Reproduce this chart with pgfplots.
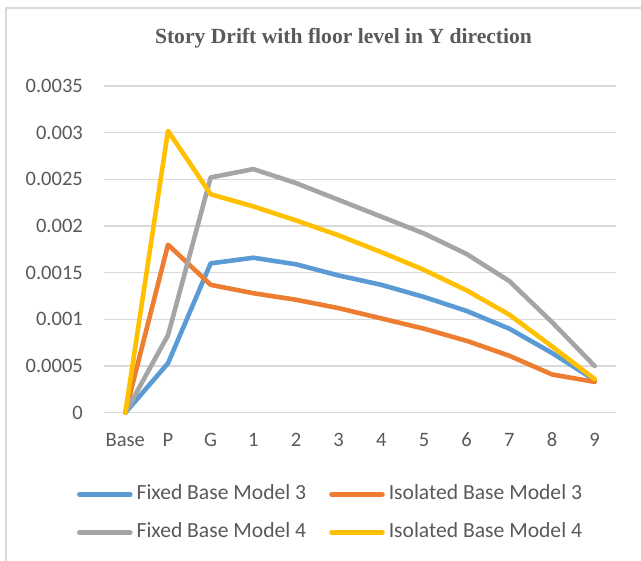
\documentclass[border=0pt]{standalone}
\usepackage{fontspec}
\setmainfont{Carlito}
\newfontfamily\titlefont{Liberation Serif}
\usepackage{pgfplots}
\pgfplotsset{compat=1.18}
\definecolor{cblue}{HTML}{5B9BD5}
\definecolor{corange}{HTML}{ED7D31}
\definecolor{cgray}{HTML}{A5A5A5}
\definecolor{cyellow}{HTML}{FFC000}
\definecolor{ctext}{HTML}{595959}
\definecolor{cgrid}{HTML}{D9D9D9}
\begin{document}
\begin{tikzpicture}
\useasboundingbox (0,0) rectangle (641bp,-561bp);
\draw[cgrid, line width=1.3bp] (6bp,-620bp) -- (6bp,-8bp) -- (700bp,-8bp);
\node[font=\titlefont\bfseries\fontsize{21.6bp}{24bp}\selectfont, text=ctext] at (343.5bp,-38bp) {Story Drift with floor level in Y direction};
\begin{axis}[
  at={(104bp,-412.7bp)}, anchor=south west,
  scale only axis, width=512bp, height=326.7bp,
  xmin=-0.5, xmax=11.5, ymin=0, ymax=0.0035,
  scaled y ticks=false,
  clip=false,
  axis line style={draw=none},
  major tick length=0pt,
  tick style={draw=none},
  ymajorgrids,
  grid style={cgrid, line width=1.3bp},
  xtick={0,1,2,3,4,5,6,7,8,9,10,11},
  xticklabels={Base,P,G,1,2,3,4,5,6,7,8,9},
  ytick={0,0.0005,0.001,0.0015,0.002,0.0025,0.003,0.0035},
  yticklabels={0,0.0005,0.001,0.0015,0.002,0.0025,0.003,0.0035},
  ticklabel style={font=\fontsize{20.5bp}{24bp}\selectfont, text=ctext},
  yticklabel style={anchor=east, inner sep=0pt, xshift=-21bp},
  xticklabel style={anchor=base, inner sep=0pt, yshift=-34bp},
  every axis plot/.append style={line width=4.6bp, line join=round, line cap=round},
  legend image code/.code={\draw[#1] (2.3bp,0bp) -- (53.3bp,0bp);},
  legend columns=2,
  legend cell align=left,
  legend style={draw=none, fill=none, inner sep=0pt, outer sep=0pt,
    at={(-0.0527,-0.2198)}, anchor=north west,
    font=\fontsize{21.6bp}{24bp}\selectfont, text=ctext,
    nodes={inner sep=1bp, text height=14bp, text depth=4bp},
    row sep=18bp,
    /tikz/every odd column/.append style={column sep=3bp},
    /tikz/every even column/.append style={column sep=22bp}},
]
\addplot[cblue] coordinates {(0,0) (1,0.00053) (2,0.0016) (3,0.00166) (4,0.00159) (5,0.00147) (6,0.00137) (7,0.00124) (8,0.00109) (9,0.0009) (10,0.00064) (11,0.00035)};
\addlegendentry{Fixed Base Model 3}
\addplot[corange] coordinates {(0,0) (1,0.0018) (2,0.00137) (3,0.00128) (4,0.00121) (5,0.00112) (6,0.00101) (7,0.0009) (8,0.00077) (9,0.00061) (10,0.00041) (11,0.00033)};
\addlegendentry{Isolated Base Model 3}
\addplot[cgray] coordinates {(0,0) (1,0.00083) (2,0.00252) (3,0.00261) (4,0.00246) (5,0.00228) (6,0.0021) (7,0.00192) (8,0.0017) (9,0.00141) (10,0.00097) (11,0.0005)};
\addlegendentry{Fixed Base Model 4}
\addplot[cyellow] coordinates {(0,0) (1,0.00302) (2,0.00234) (3,0.00221) (4,0.00206) (5,0.0019) (6,0.00172) (7,0.00153) (8,0.00131) (9,0.00105) (10,0.00071) (11,0.00036)};
\addlegendentry{Isolated Base Model 4}
\end{axis}
\end{tikzpicture}
\end{document}
